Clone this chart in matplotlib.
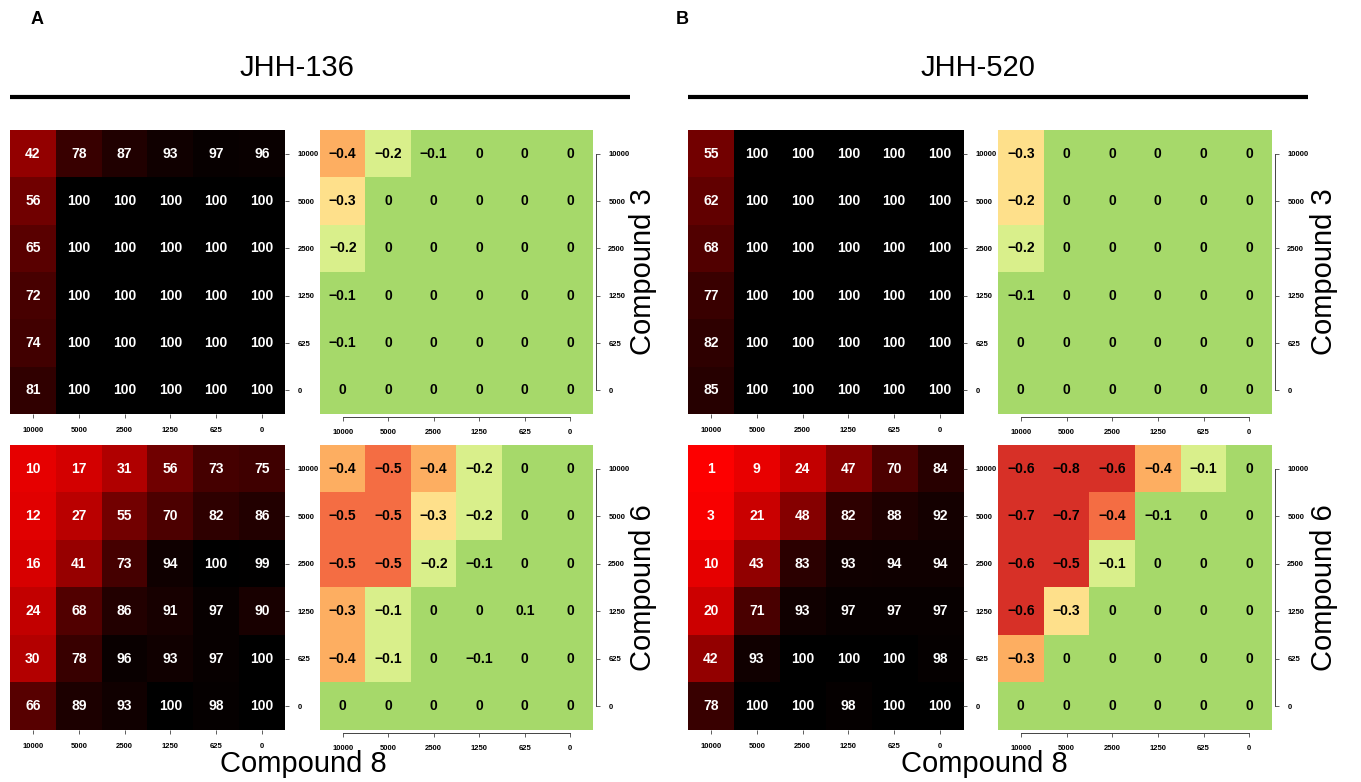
import numpy as np
import matplotlib.pyplot as plt
from matplotlib.colors import LinearSegmentedColormap, ListedColormap, BoundaryNorm
from matplotlib.lines import Line2D

plt.rcParams['font.family'] = ['Liberation Sans', 'DejaVu Sans']

# dose labels (nM), same for rows and columns
doses = ["10000", "5000", "2500", "1250", "625", "0"]

# % inhibition, rows = Compound 3 / 6 dose, cols = Compound 8 dose
inh_136_c3 = [[42, 78, 87, 93, 97, 96],
              [56, 100, 100, 100, 100, 100],
              [65, 100, 100, 100, 100, 100],
              [72, 100, 100, 100, 100, 100],
              [74, 100, 100, 100, 100, 100],
              [81, 100, 100, 100, 100, 100]]
inh_136_c6 = [[10, 17, 31, 56, 73, 75],
              [12, 27, 55, 70, 82, 86],
              [16, 41, 73, 94, 100, 99],
              [24, 68, 86, 91, 97, 90],
              [30, 78, 96, 93, 97, 100],
              [66, 89, 93, 100, 98, 100]]
inh_520_c3 = [[55, 100, 100, 100, 100, 100],
              [62, 100, 100, 100, 100, 100],
              [68, 100, 100, 100, 100, 100],
              [77, 100, 100, 100, 100, 100],
              [82, 100, 100, 100, 100, 100],
              [85, 100, 100, 100, 100, 100]]
inh_520_c6 = [[1, 9, 24, 47, 70, 84],
              [3, 21, 48, 82, 88, 92],
              [10, 43, 83, 93, 94, 94],
              [20, 71, 93, 97, 97, 97],
              [42, 93, 100, 100, 100, 98],
              [78, 100, 100, 98, 100, 100]]

# synergy scores (estimated unrounded values, shown rounded to 0.1)
syn_136_c3 = [[-0.36, -0.16, -0.06, 0, 0, 0],
              [-0.26, 0, 0, 0, 0, 0],
              [-0.16, 0, 0, 0, 0, 0],
              [-0.07, 0, 0, 0, 0, 0],
              [-0.06, 0, 0, 0, 0, 0],
              [0, 0, 0, 0, 0, 0]]
syn_136_c6 = [[-0.36, -0.46, -0.36, -0.16, 0, 0],
              [-0.46, -0.47, -0.26, -0.17, 0, 0],
              [-0.46, -0.48, -0.16, -0.06, 0, 0],
              [-0.34, -0.14, 0, 0, 0.08, 0],
              [-0.37, -0.13, 0, -0.07, 0, 0],
              [0, 0, 0, 0, 0, 0]]
syn_520_c3 = [[-0.27, 0, 0, 0, 0, 0],
              [-0.24, 0, 0, 0, 0, 0],
              [-0.17, 0, 0, 0, 0, 0],
              [-0.08, 0, 0, 0, 0, 0],
              [0, 0, 0, 0, 0, 0],
              [0, 0, 0, 0, 0, 0]]
syn_520_c6 = [[-0.62, -0.78, -0.58, -0.36, -0.13, 0],
              [-0.68, -0.72, -0.43, -0.07, 0, 0],
              [-0.61, -0.53, -0.14, 0, 0, 0],
              [-0.59, -0.27, 0, 0, 0, 0],
              [-0.33, 0, 0, 0, 0, 0],
              [0, 0, 0, 0, 0, 0]]

red_black = LinearSegmentedColormap.from_list("rb", ["#ff0000", "#000000"])
syn_cmap = ListedColormap(["#d73027", "#f46d43", "#fdae61", "#fee08b", "#d9ef8b", "#a6d96a"])
syn_norm = BoundaryNorm([-1.0, -0.5, -0.4, -0.3, -0.2, -0.1, 1.0], syn_cmap.N)

W, H = 1361, 782
fig = plt.figure(figsize=(W / 100, H / 100), dpi=100)


def px_axes(x0, y0, x1, y1):
    return fig.add_axes([x0 / W, 1 - y1 / H, (x1 - x0) / W, (y1 - y0) / H])


def fmt_syn(v):
    v = round(v, 1)
    if abs(v) < 0.05:
        return "0"
    return f"{v:g}".replace("-", "\u2212")


def style_axes(ax, with_line):
    for s in ["top", "left"]:
        ax.spines[s].set_visible(False)
    if with_line:
        for s in ["right", "bottom"]:
            ax.spines[s].set_position(("outward", 2))
            ax.spines[s].set_bounds(0, 5)
            ax.spines[s].set_color("#444444")
            ax.spines[s].set_linewidth(0.7)
    else:
        ax.spines["right"].set_visible(False)
        ax.spines["bottom"].set_visible(False)
    ax.set_xticks(range(6))
    ax.set_yticks(range(6))
    ax.set_xticklabels(doses, fontsize=5.5, fontweight="bold")
    ax.set_yticklabels(doses, fontsize=5.5, fontweight="bold")
    ax.yaxis.tick_right()
    ax.tick_params(length=3, width=0.6, color="#444444", pad=6)


def inh_panel(box, data):
    ax = px_axes(*box)
    arr = np.array(data)
    ax.imshow(arr, cmap=red_black, vmin=0, vmax=100, aspect="auto")
    for i in range(6):
        for j in range(6):
            ax.text(j, i, str(arr[i, j]), ha="center", va="center",
                    color="white", fontsize=10, fontweight="bold")
    style_axes(ax, False)


def syn_panel(box, data):
    ax = px_axes(*box)
    arr = np.array(data, dtype=float)
    ax.imshow(arr, cmap=syn_cmap, norm=syn_norm, aspect="auto")
    for i in range(6):
        for j in range(6):
            ax.text(j, i, fmt_syn(arr[i, j]), ha="center", va="center",
                    color="black", fontsize=10, fontweight="bold")
    style_axes(ax, True)


top = (130, 414)
bot = (445, 730)

inh_panel((10, top[0], 285, top[1]), inh_136_c3)
syn_panel((320, top[0], 593, top[1]), syn_136_c3)
inh_panel((10, bot[0], 285, bot[1]), inh_136_c6)
syn_panel((320, bot[0], 593, bot[1]), syn_136_c6)

inh_panel((688, top[0], 963, top[1]), inh_520_c3)
syn_panel((998, top[0], 1272, top[1]), syn_520_c3)
inh_panel((688, bot[0], 963, bot[1]), inh_520_c6)
syn_panel((998, bot[0], 1272, bot[1]), syn_520_c6)

# panel letters, cell line titles and rules
fig.text(37 / W, 1 - 19 / H, "A", fontsize=13, fontweight="bold", ha="center", va="center")
fig.text(682 / W, 1 - 19 / H, "B", fontsize=13, fontweight="bold", ha="center", va="center")
fig.text(297 / W, 1 - 68 / H, "JHH-136", fontsize=21, ha="center", va="center")
fig.text(978 / W, 1 - 68 / H, "JHH-520", fontsize=21, ha="center", va="center")
for x0, x1 in [(10, 630), (688, 1308)]:
    fig.add_artist(Line2D([x0 / W, x1 / W], [1 - 97 / H, 1 - 97 / H],
                          color="black", linewidth=3, solid_capstyle="butt"))

# compound axis names
for xc in [303, 984]:
    fig.text(xc / W, 1 - 764 / H, "Compound 8", fontsize=21, ha="center", va="center")
for xc in [643, 1324]:
    fig.text(xc / W, 1 - 272 / H, "Compound 3", fontsize=21, rotation=90,
             ha="center", va="center")
    fig.text(xc / W, 1 - 588 / H, "Compound 6", fontsize=21, rotation=90,
             ha="center", va="center")

fig.savefig("out.png", dpi=100)
